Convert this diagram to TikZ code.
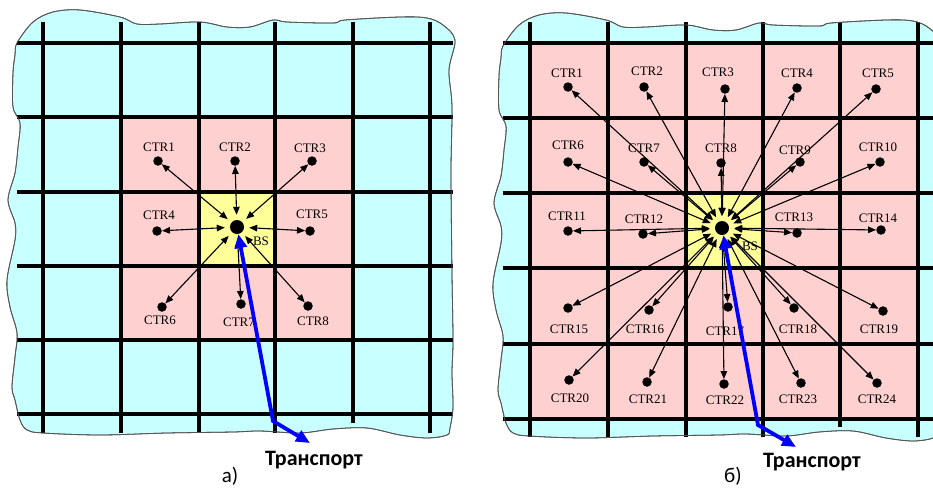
\documentclass[tikz,border=0pt]{standalone}
\usepackage{fontspec}
\setmainfont{Liberation Serif}
\newfontfamily\capfont{Carlito}
\usetikzlibrary{arrows.meta}
\definecolor{seacol}{RGB}{200,255,255}
\definecolor{cellpink}{RGB}{255,208,208}
\definecolor{cellyellow}{RGB}{255,255,153}
\definecolor{edgegray}{RGB}{85,85,85}
\definecolor{trblue}{RGB}{0,0,255}
\tikzset{
  gridline/.style={line width=3.6pt, black},
  border/.style={draw=edgegray, line width=0.8pt, fill=seacol},
  dot/.style={circle, fill=black, minimum size=9.5pt, inner sep=0pt},
  bsdot/.style={circle, fill=black, minimum size=14pt, inner sep=0pt},
  ctrlbl/.style={font=\fontsize{13}{15}\selectfont, text=black, inner sep=0pt},
  link/.style={{Triangle[length=8pt,width=6.5pt]}-{Triangle[length=8pt,width=6.5pt]}, line width=1.1pt, shorten <=5pt},
  transport/.style={trblue, line width=3.8pt, {Triangle[length=14pt,width=12pt]}-{Triangle[length=14pt,width=12pt]}},
  caplbl/.style={font=\capfont\bfseries\fontsize{22}{26}\selectfont, inner sep=0pt},
  panellbl/.style={font=\capfont\fontsize{21}{25}\selectfont, inner sep=0pt},
}
\newcommand{\edgepath}{plot[smooth cycle, tension=0.55] coordinates {
 (17,43) (33,22) (53,12) (80,10) (120,17) (137,24) (160,24) (200,22) (227,27) (250,27)
 (273,20) (287,22) (333,23) (345,20) (400,17) (427,18) (443,25) (455,40) (449,70) (452,107)
 (451,173) (452,273) (453,340) (452,373) (453,407) (450,428) (447,435) (427,438) (400,435)
 (367,428) (333,429) (300,433) (260,431) (233,432) (167,433) (100,435) (43,433) (27,430)
 (20,420) (15,400) (12,387) (15,357) (17,333) (10,307) (7,280) (15,240) (15,223) (8,200)
 (15,173) (18,147) (20,123) (13,107) (13,73) (15,55)}}
\begin{document}
\begin{tikzpicture}[x=1pt,y=-1pt]
\useasboundingbox (0,0) rectangle (933,490);
\clip (0,0) rectangle (933,490);
% ---------------- panel a ----------------
\path[border] \edgepath;
\fill[cellpink] (121,117) rectangle (353,340);
\fill[cellyellow] (199,192) rectangle (275,266);
\foreach \x in {43,121,199,275,430} \draw[gridline] (\x,22) -- (\x,433);
\draw[gridline] (353,22) -- (353,423);
\foreach \y in {43,117,192,266,340,414} \draw[gridline] (17,\y) -- (453,\y);
\path[draw=edgegray, line width=0.8pt] \edgepath;
\node[bsdot] (abs) at (237,227) {};
\node[ctrlbl] (absl) at (261,241) {BS};
\foreach \n/\dx/\dy/\lx/\ly in {1/158/161/159/147, 2/235/161/235/147, 3/312/161/310/148,
  4/157/231/159/215, 5/310/231/312/214, 6/162/307/160/320, 7/241/304/239/322, 8/308/306/313/321} {
  \node[dot] (a\n) at (\dx,\dy) {};
  \node[ctrlbl] (a\n t) at (\lx,\ly) {CTR\n};
  \draw[link] (abs) -- (a\n);
}
\coordinate (aturn) at (273,421);
\coordinate (aend) at (310,443);
\draw[transport] (abs) -- (aturn) -- (aend);
\node[caplbl] (atr) at (314,460) {Транспорт};
\node[panellbl] (acap) at (230,476) {а)};
% ---------------- panel b ----------------
\begin{scope}[shift={(486,3)}]
\path[border] \edgepath;
\end{scope}
\fill[cellpink] (530,43) rectangle (918,419);
\fill[cellyellow] (686,193) rectangle (763,268);
\foreach \x in {530,608,686,763,918} \draw[gridline] (\x,22) -- (\x,437);
\draw[gridline] (840,22) -- (840,427);
\foreach \y in {43,118,193,268,344,419} \draw[gridline] (503,\y) -- (933,\y);
\begin{scope}[shift={(486,3)}]
\path[draw=edgegray, line width=0.8pt] \edgepath;
\end{scope}
\node[bsdot] (bbs) at (722,228) {};
\node[ctrlbl] (bbsl) at (750,246) {BS};
\foreach \n/\dx/\dy/\lx/\ly in {
  1/568/87/567/73, 2/644/87/647/71, 3/725/89/718/72, 4/797/88/797/73, 5/876/89/878/73,
  6/568/162/568/145, 7/644/162/644/148, 8/721/163/721/148, 9/800/162/795/150, 10/880/162/878/147,
  11/568/231/567/216, 12/643/234/644/219, 13/797/233/794/217, 14/881/230/878/218,
  15/568/308/569/329, 16/649/310/645/329, 17/728/307/725/331, 18/794/308/798/329, 19/883/311/879/329,
  20/569/380/570/398, 21/647/382/648/399, 22/724/384/725/400, 23/801/383/798/399, 24/877/383/877/399} {
  \node[dot] (b\n) at (\dx,\dy) {};
  \node[ctrlbl] (b\n t) at (\lx,\ly) {CTR\n};
  \draw[link] (bbs) -- (b\n);
}
\coordinate (bturn) at (758,425);
\coordinate (bend) at (796,447);
\draw[transport] (bbs) -- (bturn) -- (bend);
\node[caplbl] (btr) at (812,462) {Транспорт};
\node[panellbl] (bcap) at (733,476) {б)};
\end{tikzpicture}
\end{document}
